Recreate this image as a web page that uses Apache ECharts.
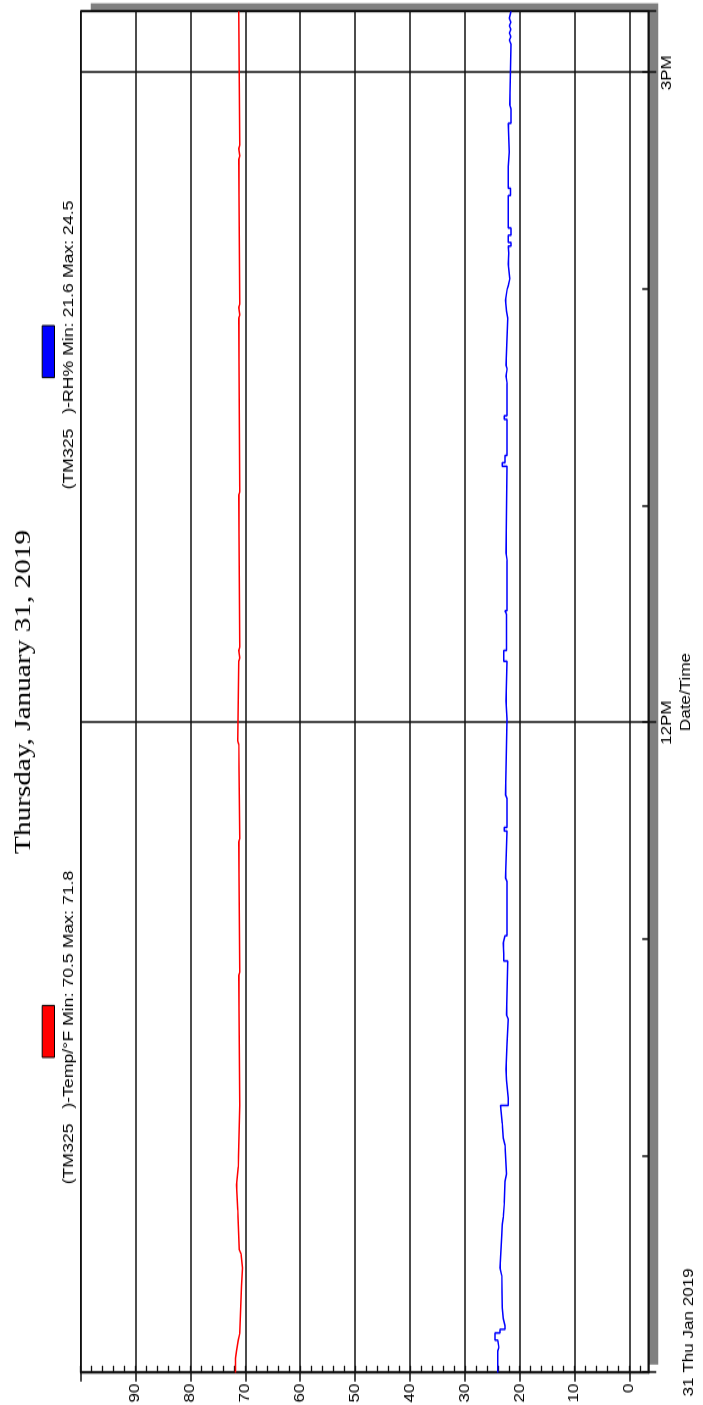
<!DOCTYPE html>
<html><head><meta charset="utf-8">
<script src="https://cdn.jsdelivr.net/npm/echarts@6/dist/echarts.min.js"></script>
<style>
html,body{margin:0;padding:0;background:#fff;overflow:hidden;width:703px;height:1405px;}
#chart{position:absolute;left:0;top:0;width:1152px;height:703px;transform-origin:0 0;transform:translate(0px,1405px) rotate(-90deg) scale(1.21962,1);}
</style></head><body><div id="chart"></div>
<script>
// ---- data ----
const chartTitle = 'Thursday, January 31, 2019';
const dateLabel = '31 Thu Jan 2019';
const timeLabelAt = ['12:00', '15:00'];
const timeLabelText = ['12PM', '3PM'];
const valueAxisLabels = [0, 10, 20, 30, 40, 50, 60, 70, 80, 90];

const tempName = '(TM325   )-Temp/\u00B0F';
const tempTimes = ['09:00','09:04','09:06','09:09','09:11','09:24','09:29','09:33','09:34','09:45','09:52','09:57','10:14','10:50','10:51','11:27','11:28','11:54','11:55','12:17','12:18','12:20','12:21','13:03','13:04','13:52','13:53','13:55','13:56','14:36','14:37','14:39','14:40','15:17'];
const tempValues = [71.8,71.6,71.3,71.0,70.7,70.5,70.8,71.1,71.4,71.6,71.3,71.0,71.2,71.0,71.2,71.0,71.2,71.4,71.2,71.0,71.2,71.0,71.2,71.0,71.2,71.0,71.2,71.0,71.2,71.0,71.2,71.0,71.2,71.2];

const rhName = '(TM325   )-RH%';
const rhTimes = ['09:00','09:06','09:07','09:09','09:11','09:12','09:13','09:15','09:18','09:27','09:29','09:38','09:41','09:43','09:47','09:53','09:55','10:03','10:05','10:09','10:14','10:16','10:21','10:24','10:31','10:38','10:39','10:54','10:56','10:59','11:01','11:16','11:17','11:30','11:31','11:39','11:40','12:01','12:06','12:17','12:20','12:30','12:31','12:45','12:47','13:11','13:12','13:14','13:24','13:25','13:34','13:36','13:38','13:39','13:52','13:54','13:57','14:00','14:01','14:03','14:07','14:10','14:12','14:13','14:15','14:17','14:26','14:28','14:34','14:38','14:46','14:50','14:51','15:08','15:09','15:10','15:11','15:12','15:13','15:14','15:15','15:17'];
const rhValues = [24.0,23.8,24.0,24.5,23.6,22.7,23.0,23.2,23.3,23.6,23.3,23.2,23.0,22.8,22.7,22.4,22.7,23.0,23.2,23.5,22.1,22.4,22.5,22.3,22.1,22.4,22.2,22.9,23.0,22.7,22.3,22.6,22.3,22.8,22.3,22.6,22.3,22.5,22.3,22.9,22.4,22.7,22.3,22.5,22.3,23.2,22.7,22.3,22.8,22.3,22.5,22.3,22.5,22.2,22.4,22.6,22.3,22.1,21.8,22.1,22.0,22.1,21.6,22.1,21.6,22.1,21.7,22.1,21.9,22.1,21.6,21.8,21.6,21.9,21.6,21.9,21.6,21.9,21.6,21.9,21.6,21.6];

// ---- helpers ----
const toMin = s => { const p = s.split(':').map(Number); return p[0] * 60 + p[1]; };
const pairs = (ts, vs) => ts.map((t, i) => [toMin(t), vs[i]]);
const tMin = toMin(tempTimes[0]);
const tMax = toMin(tempTimes[tempTimes.length - 1]);
const labelMap = {};
timeLabelAt.forEach((t, i) => { labelMap[toMin(t)] = timeLabelText[i]; });
const stat = (vs) => 'Min: ' + Math.min(...vs).toFixed(1) + ' Max: ' + Math.max(...vs).toFixed(1);

// ---- layout (landscape, before rotation) ----
const H = 703;
const L = 26.5, R = 9.3, TOP = 80.7;
const yBottom = 648.3, yZero = 629.5;
const k = (yZero - TOP) / 100;
const vMinFrame = -(yBottom - yZero) / k;
const yMinus2 = yZero + 2 * k;
const plotCenter = L + (1152 - L - R) / 2;
const ink = '#111111';
const sans = '"Liberation Sans", Arial, sans-serif';
const gridBase = {left: L, right: R, top: TOP, containLabel: false, outerBoundsMode: 'none'};

const chart = echarts.init(document.getElementById('chart'), null, {renderer: 'canvas'});
chart.setOption({
  animation: false,
  backgroundColor: '#ffffff',
  title: [
    {text: chartTitle, left: plotCenter, top: 12, textAlign: 'center', padding: 0,
     textStyle: {fontFamily: '"Liberation Serif", "Times New Roman", serif', fontSize: 24, fontWeight: 'normal', color: '#000'}},
    {text: tempName + ' ' + stat(tempValues), left: 309.5, top: 61.5, textAlign: 'center', padding: 0,
     textStyle: {fontFamily: sans, fontSize: 14.5, fontWeight: 'normal', color: '#000'}},
    {text: rhName + ' ' + stat(rhValues), left: 869.1, top: 61.5, textAlign: 'center', padding: 0,
     textStyle: {fontFamily: sans, fontSize: 14.5, fontWeight: 'normal', color: '#000'}}
  ],
  legend: [
    {data: [tempName], left: 284.5, top: 41.7, padding: 0, itemGap: 0, itemWidth: 42.6, itemHeight: 12.3,
     icon: 'rect', formatter: () => '', selectedMode: false, itemStyle: {borderColor: '#000', borderWidth: 1}},
    {data: [rhName], left: 841.9, top: 41.7, padding: 0, itemGap: 0, itemWidth: 42.6, itemHeight: 12.3,
     icon: 'rect', formatter: () => '', selectedMode: false, itemStyle: {borderColor: '#000', borderWidth: 1}}
  ],
  grid: [
    // plot area with drop shadow (no stroke, so the shadow stays outside)
    Object.assign({}, gridBase, {bottom: H - yBottom, show: true, backgroundColor: '#ffffff',
     borderWidth: 0, borderColor: 'transparent', shadowColor: '#808080', shadowBlur: 0, shadowOffsetX: 6.6, shadowOffsetY: 10}),
    Object.assign({}, gridBase, {bottom: H - yZero}),
    Object.assign({}, gridBase, {bottom: H - yMinus2}),
    // plot frame
    Object.assign({}, gridBase, {bottom: H - yBottom, show: true, backgroundColor: 'transparent',
     borderColor: ink, borderWidth: 1.6})
  ],
  xAxis: [
    {gridIndex: 0, type: 'value', position: 'bottom', min: tMin, max: tMax, interval: 60,
     axisLine: {show: true, onZero: false, lineStyle: {color: ink, width: 1.6}},
     axisTick: {show: true, inside: true, length: 6, lineStyle: {color: ink, width: 1.5}},
     splitLine: {show: false},
     axisLabel: {show: true, showMinLabel: true, showMaxLabel: false, hideOverlap: false, margin: 12, color: '#000', fontFamily: sans, fontSize: 14,
       formatter: v => (v === tMin ? '{d|' + dateLabel + '}' : (labelMap[v] || '')),
       rich: {d: {padding: [22, 0, 0, 66], color: '#000', fontFamily: sans, fontSize: 14}}},
     name: 'Date/Time', nameLocation: 'middle', nameGap: 31, nameMoveOverlap: false,
     nameTextStyle: {color: '#000', fontFamily: sans, fontSize: 14}},
    {gridIndex: 0, type: 'value', position: 'bottom', min: tMin, max: tMax, interval: 180,
     axisLine: {show: false, onZero: false},
     axisTick: {show: true, inside: false, length: 8, lineStyle: {color: ink, width: 1.5}},
     axisLabel: {show: false},
     splitLine: {show: true, lineStyle: {color: ink, width: 1.5}}},
    {gridIndex: 1, type: 'value', min: tMin, max: tMax, show: false},
    {gridIndex: 2, type: 'value', min: tMin, max: tMax, show: false},
    {gridIndex: 3, type: 'value', min: tMin, max: tMax, show: false}
  ],
  yAxis: [
    {gridIndex: 0, type: 'value', min: vMinFrame, max: 100, show: false, axisLine: {onZero: false}},
    {gridIndex: 1, type: 'value', min: 0, max: 100, interval: 10, position: 'left',
     axisLine: {show: false, onZero: false},
     axisTick: {show: true, inside: false, length: 7.3, lineStyle: {color: ink, width: 1.5}},
     axisLabel: {show: true, margin: 9, color: '#000', fontFamily: sans, fontSize: 14,
       formatter: v => (valueAxisLabels.indexOf(v) >= 0 ? String(v) : '')},
     splitLine: {show: true, lineStyle: {color: ink, width: 1.5}}},
    {gridIndex: 2, type: 'value', min: -2, max: 100, interval: 2, position: 'left',
     axisLine: {show: false, onZero: false},
     axisTick: {show: true, inside: true, length: 5.7, lineStyle: {color: ink, width: 1.3}},
     axisLabel: {show: false}, splitLine: {show: false}},
    {gridIndex: 3, type: 'value', min: vMinFrame, max: 100, show: false}
  ],
  series: [
    {name: tempName, type: 'line', xAxisIndex: 0, yAxisIndex: 0, step: 'end', showSymbol: false, silent: true,
     data: pairs(tempTimes, tempValues), lineStyle: {color: '#ff0000', width: 1.5}, itemStyle: {color: '#ff0000'}, z: 5},
    {name: rhName, type: 'line', xAxisIndex: 0, yAxisIndex: 0, step: 'end', showSymbol: false, silent: true,
     data: pairs(rhTimes, rhValues), lineStyle: {color: '#0000ff', width: 1.5}, itemStyle: {color: '#0000ff'}, z: 5}
  ]
});
</script></body></html>
